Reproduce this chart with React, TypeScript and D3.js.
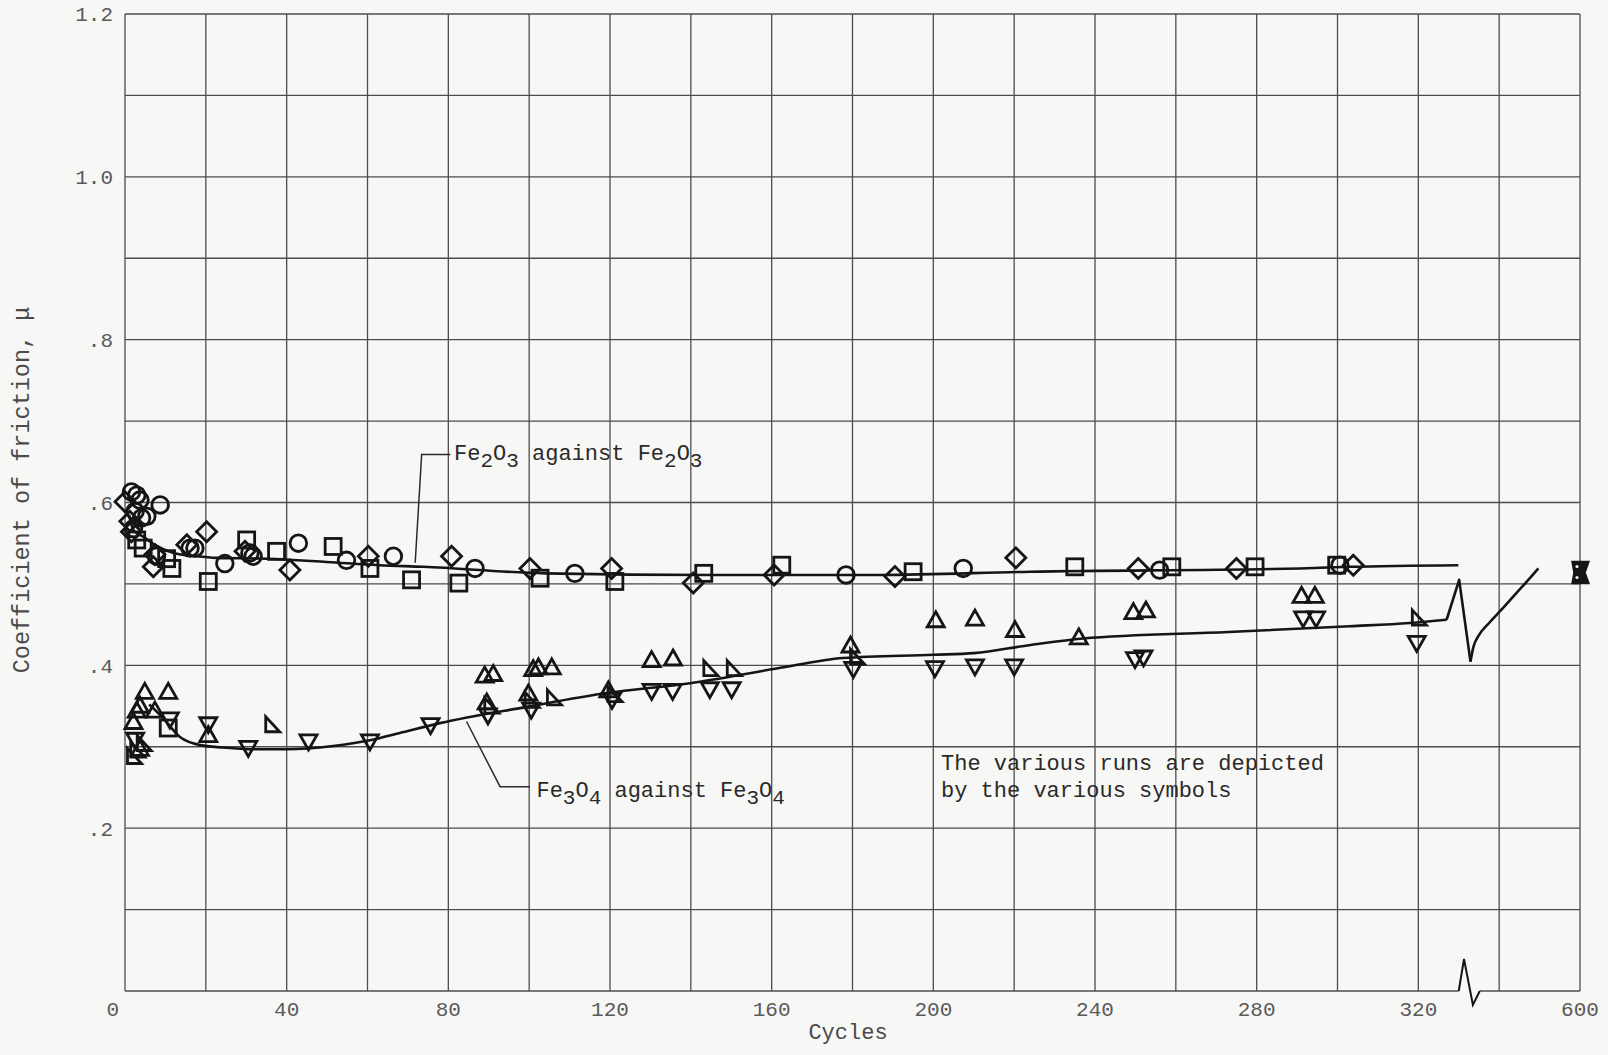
import React from "react";
import * as d3 from "d3";

// ---------- data (x in cycles; 600 is drawn past the axis break) ----------
const yGridValues = [0, 0.1, 0.2, 0.3, 0.4, 0.5, 0.6, 0.7, 0.8, 0.9, 1.0, 1.1, 1.2];
const yTickValues = [0.2, 0.4, 0.6, 0.8, 1.0, 1.2];
const yTickLabels = [".2", ".4", ".6", ".8", "1.0", "1.2"];
const xGridCycles = [0, 20, 40, 60, 80, 100, 120, 140, 160, 180, 200, 220, 240, 260, 280, 300, 320, 340, 600];
const xTickCycles = [0, 40, 80, 120, 160, 200, 240, 280, 320, 600];

// Fe2O3 against Fe2O3 runs
const fe2o3Circles: [number, number][] = [
  [1.6, 0.613], [2.9, 0.609], [3.7, 0.603], [8.7, 0.597], [2.5, 0.589], [5.4, 0.583], [4.1, 0.581],
  [2.1, 0.568], [7.8, 0.534], [16.1, 0.544], [17.3, 0.544], [24.7, 0.525], [30.9, 0.538], [31.7, 0.534],
  [42.9, 0.55], [54.8, 0.529], [66.4, 0.534], [86.6, 0.519], [111.3, 0.513], [178.4, 0.511],
  [207.4, 0.519], [256, 0.517], [300.6, 0.523],
];
const fe2o3Squares: [number, number][] = [
  [2.9, 0.554], [4.5, 0.544], [10.3, 0.531], [11.6, 0.519], [20.6, 0.503], [30.1, 0.554], [37.5, 0.54],
  [51.5, 0.546], [60.6, 0.519], [70.9, 0.505], [82.6, 0.501], [102.7, 0.507], [121.2, 0.503],
  [143.2, 0.513], [162.5, 0.523], [195, 0.515], [235, 0.521], [259, 0.521], [279.6, 0.521], [299.8, 0.523],
];
const fe2o3Diamonds: [number, number][] = [
  [0, 0.601], [1.2, 0.577], [1.6, 0.564], [7.4, 0.536], [7.0, 0.521], [15.3, 0.548], [20.2, 0.564],
  [29.7, 0.54], [40.8, 0.517], [60.2, 0.534], [80.8, 0.534], [100.2, 0.519], [120.4, 0.519],
  [140.6, 0.501], [160.6, 0.511], [190.5, 0.509], [220.4, 0.532], [250.7, 0.519], [275, 0.519], [303.9, 0.523],
];

// Fe3O4 against Fe3O4 runs
const fe3o4TriUp: [number, number][] = [
  [2.1, 0.331], [2.9, 0.345], [3.7, 0.351], [4.9, 0.368], [7.4, 0.345], [10.7, 0.368], [20.6, 0.315],
  [3.7, 0.298], [89, 0.388], [91.1, 0.39], [101, 0.396], [102.3, 0.398], [105.6, 0.398], [89.5, 0.355],
  [99.8, 0.366], [119.6, 0.37], [130.3, 0.407], [135.6, 0.409], [179.5, 0.425], [200.6, 0.456],
  [210.3, 0.458], [220.2, 0.444], [236, 0.435], [249.5, 0.466], [252.6, 0.468], [291.1, 0.486], [294.4, 0.486],
];
const fe3o4TriDown: [number, number][] = [
  [11.1, 0.333], [20.6, 0.327], [2.5, 0.308], [30.5, 0.298], [45.4, 0.306], [60.6, 0.306], [75.6, 0.326],
  [89.8, 0.338], [100.5, 0.345], [120.5, 0.357], [130.3, 0.368], [135.5, 0.368], [144.7, 0.37],
  [150.1, 0.37], [180.2, 0.395], [200.4, 0.396], [210.3, 0.398], [220, 0.398], [249.9, 0.407],
  [252, 0.409], [291.5, 0.457], [294.7, 0.457], [319.6, 0.427],
];
const fe3o4RightTri: [number, number][] = [
  [36.3, 0.327], [2.1, 0.288], [4.5, 0.304], [2.9, 0.296], [90.5, 0.35], [100.5, 0.357], [106, 0.36],
  [121, 0.364], [144.7, 0.396], [150.5, 0.396], [181, 0.41], [320, 0.458],
];
const fe3o4Squares: [number, number][] = [[10.7, 0.323]];
const at600Cluster: [number, number][] = [[600, 0.514]];

// faired curves
const fe2o3Curve: [number, number][] = [
  [1, 0.585], [2.1, 0.566], [4.5, 0.558], [7.4, 0.548], [12, 0.538], [17.7, 0.534], [22.7, 0.532],
  [35, 0.531], [49.9, 0.527], [63, 0.523], [73.8, 0.521], [104, 0.513], [145.5, 0.511], [186.8, 0.511],
  [224, 0.515], [290.7, 0.519], [303, 0.521], [329.9, 0.523],
];
const fe3o4Curve: [number, number][] = [
  [6, 0.352], [9.1, 0.337], [13.6, 0.312], [18.6, 0.302], [24.3, 0.299], [30.9, 0.297], [40, 0.297],
  [51.5, 0.301], [60.6, 0.308], [68, 0.317], [77.9, 0.329], [99.4, 0.349], [119.2, 0.366],
  [139.8, 0.378], [161.2, 0.396], [177.7, 0.409], [200, 0.413], [210, 0.415], [224, 0.425],
  [237, 0.433], [273, 0.441], [303, 0.448], [317.9, 0.452], [327, 0.456],
];
// zig-zag and recovery drawn inside the axis break (axis units)
const fe3o4Spike: [number, number][] = [[327, 0.456], [330.1, 0.505], [332.9, 0.4045]];
const fe3o4Recovery: [number, number][] = [
  [332.9, 0.4045], [333.6, 0.422], [335, 0.437], [337.5, 0.452], [340.5, 0.468], [344.3, 0.489], [347.6, 0.507], [349.7, 0.519],
];

// label leaders (axis units)
const fe2o3Leader: [number, number][] = [[71.8, 0.526], [73.4, 0.659], [80.5, 0.659]];
const fe3o4Leader: [number, number][] = [[84.5, 0.331], [92.8, 0.251], [100.2, 0.251]];

// ---------- layout ----------
const W = 1608;
const H = 1055;
const M = { left: 125, right: 1580, top: 14, bottom: 991 };
const BREAK_AT = 600;
const BREAK_POS = 360;
const FONT = "'Liberation Mono', 'DejaVu Sans Mono', monospace";
const INK = "#151515";
const GRID = "#4d4d4d";
const BG = "#f7f7f5";

const xs = d3.scaleLinear().domain([0, BREAK_POS]).range([M.left, M.right]);
const ys = d3.scaleLinear().domain([0, 1.2]).range([M.bottom, M.top]);
const toPos = (c: number) => (c >= BREAK_AT ? BREAK_POS : c);
const X = (c: number) => xs(toPos(c));
const Y = (v: number) => ys(v);

const smooth = d3
  .line<[number, number]>()
  .x((d) => X(d[0]))
  .y((d) => Y(d[1]))
  .curve(d3.curveMonotoneX);
const straight = d3
  .line<[number, number]>()
  .x((d) => xs(d[0]))
  .y((d) => Y(d[1]));
const smoothPos = d3
  .line<[number, number]>()
  .x((d) => xs(d[0]))
  .y((d) => Y(d[1]))
  .curve(d3.curveMonotoneX);

const SW = 2.8;

function Marker({ kind, cx, cy }: { kind: string; cx: number; cy: number }) {
  const common = { fill: "none", stroke: INK, strokeWidth: SW, strokeLinejoin: "miter" as const };
  if (kind === "circle") return <circle cx={cx} cy={cy} r={8.3} {...common} />;
  if (kind === "square") return <rect x={cx - 8} y={cy - 8} width={16} height={16} {...common} />;
  if (kind === "diamond")
    return <path d={`M${cx},${cy - 10}L${cx + 10},${cy}L${cx},${cy + 10}L${cx - 10},${cy}Z`} {...common} />;
  if (kind === "triUp")
    return <path d={`M${cx},${cy - 8}L${cx + 8.5},${cy + 7}L${cx - 8.5},${cy + 7}Z`} {...common} />;
  if (kind === "triDown")
    return <path d={`M${cx - 8.5},${cy - 7}L${cx + 8.5},${cy - 7}L${cx},${cy + 8}Z`} {...common} />;
  if (kind === "rightTri")
    return <path d={`M${cx - 6},${cy - 8}L${cx + 8},${cy + 7}L${cx - 6},${cy + 7}Z`} {...common} />;
  if (kind === "hourglass")
    return (
      <g>
        <path
          d={`M${cx - 8},${cy - 11}L${cx + 9},${cy - 11}L${cx + 5},${cy}L${cx + 9},${cy + 11}L${cx - 8},${cy + 11}L${cx - 6},${cy}Z`}
          fill={INK}
          stroke={INK}
          strokeWidth={1.5}
        />
        <circle cx={cx - 3} cy={cy - 6} r={1.6} fill={BG} />
        <circle cx={cx - 3} cy={cy + 5} r={1.6} fill={BG} />
      </g>
    );
  return null;
}

const series: { kind: string; data: [number, number][] }[] = [
  { kind: "circle", data: fe2o3Circles },
  { kind: "square", data: fe2o3Squares },
  { kind: "diamond", data: fe2o3Diamonds },
  { kind: "triUp", data: fe3o4TriUp },
  { kind: "triDown", data: fe3o4TriDown },
  { kind: "rightTri", data: fe3o4RightTri },
  { kind: "square", data: fe3o4Squares },
  { kind: "hourglass", data: at600Cluster },
];

function Formula({ x, y, a, b }: { x: number; y: number; a: string; b: string }) {
  const sub = 7;
  return (
    <text x={x} y={y} fontFamily={FONT} fontSize={22} fill="#2a2a2a">
      Fe
      <tspan dy={sub} fontSize={21}>{a}</tspan>
      <tspan dy={-sub}>O</tspan>
      <tspan dy={sub} fontSize={21}>{b}</tspan>
      <tspan dy={-sub}> against Fe</tspan>
      <tspan dy={sub} fontSize={21}>{a}</tspan>
      <tspan dy={-sub}>O</tspan>
      <tspan dy={sub} fontSize={21}>{b}</tspan>
    </text>
  );
}

export default function App() {
  const breakL = xs(330);
  const breakR = xs(335.2);
  const axisY = M.bottom;
  return (
    <svg
      width={W}
      height={H}
      viewBox={`0 0 ${W} ${H}`}
      style={{ position: "absolute", left: 0, top: 0, background: BG }}
    >
      <rect x={0} y={0} width={W} height={H} fill={BG} />

      {/* grid */}
      <g stroke={GRID} strokeWidth={1.3}>
        {yGridValues.slice(1).map((v) => (
          <line key={"h" + v} x1={M.left} x2={M.right} y1={Y(v)} y2={Y(v)} />
        ))}
        {xGridCycles.map((c) => (
          <line key={"v" + c} x1={X(c)} x2={X(c)} y1={M.top} y2={M.bottom} />
        ))}
      </g>

      {/* bottom axis with break */}
      <g stroke={GRID} strokeWidth={1.4} fill="none">
        <line x1={M.left} x2={breakL} y1={axisY} y2={axisY} />
        <line x1={breakR} x2={M.right} y1={axisY} y2={axisY} />
        <path
          d={`M${breakL},${axisY}L${xs(331.3)},${axisY - 32}L${xs(333.5)},${axisY + 14}L${breakR},${axisY}`}
          stroke={INK}
          strokeWidth={2}
        />
      </g>

      {/* y tick labels */}
      {yTickValues.map((v, i) => (
        <text
          key={"yt" + v}
          x={M.left - 12}
          y={Y(v)}
          dy="0.35em"
          textAnchor="end"
          fontFamily={FONT}
          fontSize={21}
          fill="#5a5a5a"
        >
          {yTickLabels[i]}
        </text>
      ))}

      {/* x tick labels */}
      {xTickCycles.map((c) => (
        <text
          key={"xt" + c}
          x={c === 0 ? X(c) - 6 : X(c)}
          y={1016}
          textAnchor={c === 0 ? "end" : "middle"}
          fontFamily={FONT}
          fontSize={21}
          fill="#5a5a5a"
        >
          {c}
        </text>
      ))}

      {/* axis titles */}
      <text x={848} y={1039} textAnchor="middle" fontFamily={FONT} fontSize={22} fill="#4a4a4a">
        Cycles
      </text>
      <text
        transform="translate(29,490) rotate(-90)"
        textAnchor="middle"
        fontFamily={FONT}
        fontSize={23.5}
        fill="#4a4a4a"
      >
        Coefficient of friction, μ
      </text>

      {/* curves */}
      <g fill="none" stroke={INK} strokeWidth={2.6} strokeLinejoin="round">
        <path d={smooth(fe2o3Curve) || ""} />
        <path d={smooth(fe3o4Curve) || ""} />
        <path d={straight(fe3o4Spike) || ""} />
        <path d={smoothPos(fe3o4Recovery) || ""} />
      </g>

      {/* markers */}
      {series.map((s, si) =>
        s.data.map((d, i) => <Marker key={si + "-" + i} kind={s.kind} cx={X(d[0])} cy={Y(d[1])} />)
      )}

      {/* leaders */}
      <g fill="none" stroke="#2a2a2a" strokeWidth={1.5}>
        <path d={straight(fe2o3Leader) || ""} />
        <path d={straight(fe3o4Leader) || ""} />
      </g>

      <Formula x={xs(81.4)} y={Y(0.652)} a="2" b="3" />
      <Formula x={xs(101.8)} y={Y(0.238)} a="3" b="4" />

      <text x={941} y={770} fontFamily={FONT} fontSize={22} fill="#2a2a2a">
        The various runs are depicted
      </text>
      <text x={941} y={797} fontFamily={FONT} fontSize={22} fill="#2a2a2a">
        by the various symbols
      </text>
    </svg>
  );
}
